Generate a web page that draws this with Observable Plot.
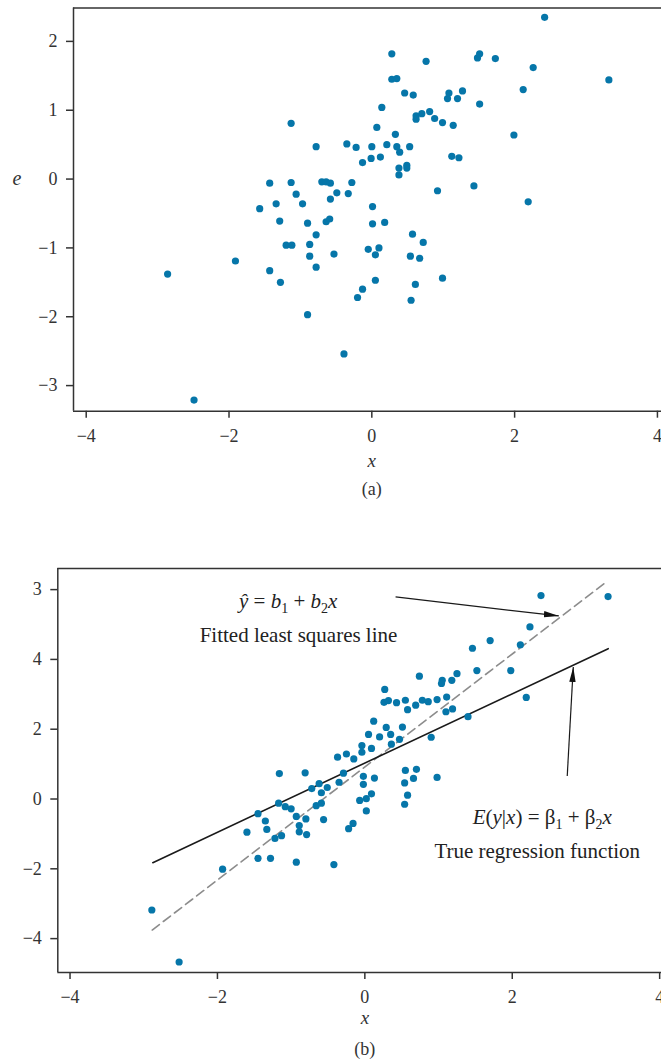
<!DOCTYPE html>
<html><head><meta charset="utf-8">
<script src="https://cdn.jsdelivr.net/npm/d3@7"></script>
<script src="https://cdn.jsdelivr.net/npm/@observablehq/plot@0.6"></script>
<style>
html,body{margin:0;padding:0;background:#fff;}
#chart{width:661px;height:1060px;overflow:hidden;}
#chart svg{display:block;}
#chart svg, #chart svg text, #chart svg tspan{font-family:"Liberation Serif","Times New Roman",serif !important;}
</style></head><body><div id="chart"></div>
<script>
// ---------- Panel (a): residuals e against x ----------
const xA = [-2.86,-2.49,-1.91,-1.57,-1.43,-1.43,-1.34,-1.29,-1.28,-1.20,
  -1.13,-1.13,-1.12,-1.06,-0.97,-0.90,-0.90,-0.87,-0.87,-0.78,
  -0.78,-0.78,-0.70,-0.64,-0.58,-0.64,-0.59,-0.58,-0.53,-0.49,
  -0.39,-0.35,-0.33,-0.28,-0.22,-0.20,-0.13,-0.13,-0.05,-0.01,
  0.00,0.01,0.01,0.05,0.05,0.07,0.10,0.12,0.14,0.18,
  0.21,0.28,0.28,0.33,0.35,0.35,0.38,0.38,0.39,0.46,
  0.49,0.49,0.53,0.54,0.55,0.57,0.58,0.61,0.62,0.62,
  0.67,0.70,0.72,0.76,0.81,0.88,0.92,0.99,0.99,1.06,
  1.08,1.12,1.14,1.20,1.22,1.27,1.43,1.48,1.51,1.51,
  1.73,1.99,2.12,2.19,2.26,2.42,3.32];
const eA = [-1.38,-3.21,-1.19,-0.43,-0.06,-1.33,-0.36,-0.61,-1.50,-0.96,
  0.81,-0.05,-0.96,-0.22,-0.36,-0.64,-1.97,-0.95,-1.12,0.47,
  -0.81,-1.28,-0.04,-0.04,-0.06,-0.62,-0.58,-0.29,-1.09,-0.20,
  -2.54,0.51,-0.21,-0.05,0.46,-1.72,0.24,-1.60,-1.02,0.30,
  0.47,-0.40,-0.65,-1.10,-1.47,0.75,-1.00,0.32,1.04,-0.63,
  0.50,1.82,1.45,0.65,1.46,0.47,0.16,0.06,0.39,1.25,
  0.20,0.16,0.47,-1.12,-1.76,-0.80,1.22,-1.53,0.92,0.87,
  -1.15,0.95,-0.92,1.71,0.98,0.88,-0.17,0.82,-1.44,1.17,
  1.25,0.33,0.78,1.17,0.31,1.28,-0.10,1.76,1.82,1.09,
  1.75,0.64,1.30,-0.33,1.62,2.35,1.44];

// ---------- Panel (b): y against x ----------
const xB = [-2.89,-2.52,-1.93,-1.60,-1.45,-1.45,-1.35,-1.33,-1.28,-1.22,
  -1.17,-1.16,-1.13,-1.08,-1.00,-0.93,-0.93,-0.89,-0.89,-0.81,
  -0.80,-0.79,-0.72,-0.66,-0.62,-0.59,-0.59,-0.56,-0.51,-0.42,
  -0.37,-0.35,-0.29,-0.25,-0.22,-0.16,-0.15,-0.07,-0.04,-0.04,
  -0.02,-0.02,0.02,0.02,0.05,0.09,0.09,0.12,0.13,0.20,
  0.27,0.26,0.29,0.32,0.35,0.36,0.43,0.47,0.51,0.54,
  0.54,0.55,0.55,0.58,0.58,0.66,0.69,0.70,0.74,0.78,
  0.86,0.90,0.98,0.98,1.05,1.04,1.11,1.10,1.18,1.19,
  1.25,1.40,1.46,1.52,1.70,1.98,2.11,2.19,2.24,2.39,3.30];
const yB = [-3.18,-4.67,-2.01,-0.95,-0.42,-1.70,-0.63,-0.87,-1.70,-1.13,
  -0.12,0.73,-1.05,-0.22,-0.28,-0.50,-1.81,-0.76,-0.94,0.75,
  -0.57,-1.02,0.30,-0.19,0.44,0.18,-0.12,-0.59,0.33,-1.88,
  1.20,0.48,0.74,1.29,-0.85,-0.70,1.15,-0.04,1.53,1.34,
  0.65,0.42,0.01,-0.34,1.85,1.45,0.15,2.23,0.60,1.78,
  3.14,2.77,2.05,2.82,1.85,1.57,2.76,1.71,2.06,0.46,
  -0.15,2.83,0.82,0.11,2.56,0.59,2.69,0.85,3.52,2.83,
  2.79,1.77,2.85,0.62,3.40,3.31,2.92,2.50,3.40,2.58,
  3.59,2.36,4.32,3.68,4.54,3.68,4.42,2.91,4.93,5.83,5.80];

// regression lines (endpoints)
const trueLineX = [-2.877, 3.302];
const trueLineY = [-1.825, 4.307];
const fitLineX = [-2.885, 3.252];
const fitLineY = [-3.754, 6.181];

// ticks
const xTicks = [-4, -2, 0, 2, 4];
const yTicksA = [-3, -2, -1, 0, 1, 2];
const yTicksB = [6, 4, 2, 0, -2, -4];
const yTickLabelsB = ["3", "4", "2", "0", "\u22122", "\u22124"];

// annotations (panel b)
const annotations = [
  {x: -1.04, y: 5.48, text: "yhat"},
  {x: -0.90, y: 4.50, text: "Fitted least squares line"},
  {x: 2.407, y: -0.73, text: "Eyx"},
  {x: 2.339, y: -1.68, text: "True regression function"}
];
const arrows = [
  {x1: 0.417, y1: 5.79, x2: 2.632, y2: 5.245},
  {x1: 2.746, y1: 0.66, x2: 2.828, y2: 3.782}
];
const richText = {
  yhat: [["\u0177","i"],[" = ",""],["b","i"],["1","s"],[" + ",""],["b","i"],["2","s"],["x","i"]],
  Eyx: [["E","i"],["(",""],["y","i"],["|",""],["x","i"],[") = \u03b2",""],["1","s"],[" + \u03b2",""],["2","s"],["x","i"]]
};

const dotColor = "#0676a9";
const ink = "#333";
const font = "'Liberation Serif', 'Times New Roman', serif";
const fmt = d => String(d).replace("-", "\u2212");

const domAX = [-4.178, 4.057], domAY = [-3.372, 2.485];
const domBX = [-4.166, 4.025], domBY = [-4.971, 6.605];

const plotA = Plot.plot({
  width: 661, height: 520,
  marginTop: 7.5, marginBottom: 109.3, marginLeft: 73, marginRight: 0,
  x: {domain: domAX}, y: {domain: domAY},
  style: {fontFamily: font, fontSize: "18px", color: ink, background: "white", overflow: "visible"},
  marks: [
    Plot.ruleY([domAY[1]], {stroke: ink, strokeWidth: 1.5}),
    Plot.ruleY([domAY[0]], {stroke: ink, strokeWidth: 1.5}),
    Plot.ruleX([domAX[0]], {stroke: ink, strokeWidth: 1.5}),
    Plot.axisX({ticks: xTicks, tickFormat: fmt, tickSize: 7, tickPadding: 11, strokeWidth: 1.5, label: null, color: ink}),
    Plot.axisY({ticks: yTicksA, tickFormat: fmt, tickSize: 7, tickPadding: 9, strokeWidth: 1.5, label: null, color: ink}),
    Plot.dot(d3.range(xA.length), {x: i => xA[i], y: i => eA[i], r: 3.6, fill: dotColor, stroke: "none"}),
    Plot.text(["x"], {x: () => 0, text: d => d, frameAnchor: "bottom", dy: 56, lineAnchor: "bottom", fontStyle: "italic", fontSize: 19, fill: ink}),
    Plot.text(["(a)"], {x: () => 0, text: d => d, frameAnchor: "bottom", dy: 84, lineAnchor: "bottom", fontSize: 18, fill: ink}),
    Plot.text(["e"], {y: () => 0, text: d => d, frameAnchor: "left", dx: -61, fontStyle: "italic", fontSize: 20, fill: ink})
  ]
});

const plotB = Plot.plot({
  width: 661, height: 540,
  marginTop: 48, marginBottom: 88, marginLeft: 57.3, marginRight: 0,
  x: {domain: domBX}, y: {domain: domBY},
  style: {fontFamily: font, fontSize: "18px", color: ink, background: "white", overflow: "visible"},
  marks: [
    Plot.ruleY([domBY[1]], {stroke: ink, strokeWidth: 1.5}),
    Plot.ruleY([domBY[0]], {stroke: ink, strokeWidth: 1.5}),
    Plot.ruleX([domBX[0]], {stroke: ink, strokeWidth: 1.5}),
    Plot.axisX({ticks: xTicks, tickFormat: fmt, tickSize: 7, tickPadding: 11, strokeWidth: 1.5, label: null, color: ink}),
    Plot.axisY({ticks: yTicksB, tickSize: 7, tickPadding: 9, strokeWidth: 1.5, label: null, color: ink,
      tickFormat: d => yTickLabelsB[yTicksB.indexOf(d)]}),
    Plot.line(d3.range(fitLineX.length), {x: i => fitLineX[i], y: i => fitLineY[i], stroke: "#8c8c8c", strokeWidth: 1.6, strokeDasharray: "9,5"}),
    Plot.line(d3.range(trueLineX.length), {x: i => trueLineX[i], y: i => trueLineY[i], stroke: "#1a1a1a", strokeWidth: 1.6}),
    Plot.dot(d3.range(xB.length), {x: i => xB[i], y: i => yB[i], r: 3.6, fill: dotColor, stroke: "none"}),
    Plot.link(arrows, {x1: "x1", y1: "y1", x2: "x2", y2: "y2", stroke: "#1a1a1a", strokeWidth: 1.2}),
    Plot.text(annotations, {x: "x", y: "y", text: "text", lineAnchor: "bottom", fontSize: 21, fill: "#222"}),
    Plot.text(["x"], {x: () => 0, text: d => d, frameAnchor: "bottom", dy: 51, lineAnchor: "bottom", fontStyle: "italic", fontSize: 19, fill: ink}),
    Plot.text(["(b)"], {x: () => 0, text: d => d, frameAnchor: "bottom", dy: 82, lineAnchor: "bottom", fontSize: 18, fill: ink})
  ]
});

// rich text (italics and subscripts) for the two formulas
d3.select(plotB).selectAll("text").each(function() {
  const el = d3.select(this);
  const segs = richText[this.textContent];
  if (!segs) return;
  el.text(null);
  let inSub = false;
  for (const [t, kind] of segs) {
    const ts = el.append("tspan").text(t);
    if (kind === "i") ts.attr("font-style", "italic");
    if (kind === "s") { ts.attr("font-size", 14).attr("dy", 5); inSub = true; }
    else if (inSub) { ts.attr("dy", -5); inSub = false; }
  }
});

// filled arrowheads
const sb = d3.select(plotB);
sb.append("defs").append("marker")
  .attr("id", "ahead").attr("viewBox", "-15 -4 16 8").attr("refX", 0).attr("refY", 0)
  .attr("markerWidth", 16).attr("markerHeight", 8).attr("markerUnits", "userSpaceOnUse").attr("orient", "auto")
  .append("path").attr("d", "M-15,-3.2L0,0L-15,3.2Z").attr("fill", "#111");
sb.selectAll('g[aria-label="link"] path').attr("marker-end", "url(#ahead)");

const c = document.getElementById("chart");
c.appendChild(plotA);
c.appendChild(plotB);
</script></body></html>
